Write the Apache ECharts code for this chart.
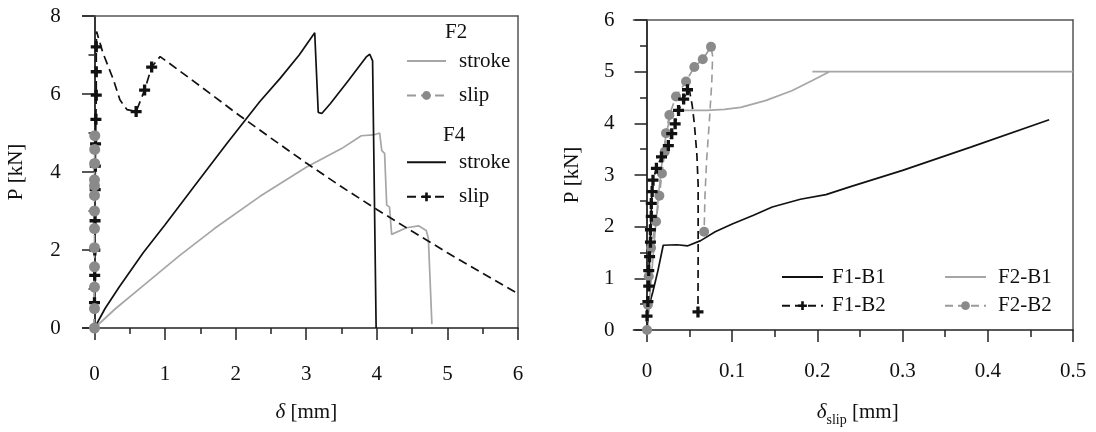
<!DOCTYPE html>
<html>
<head>
<meta charset="utf-8">
<script src="https://cdn.jsdelivr.net/npm/echarts@6/dist/echarts.min.js"></script>
<style>
  html, body { margin: 0; padding: 0; background: #fff; }
  #chart { width: 1096px; height: 432px; }
</style>
</head>
<body>
<div id="chart"></div>
<script>
// ---- Left panel: load P [kN] vs displacement δ [mm] ----
// third value in the slip arrays: 1 = draw a marker at this point
const f2Stroke = [[0,0],[0.3,0.5],[0.7,1.1],[1.2,1.85],[1.7,2.55],[2.34,3.37],[3.0,4.12],[3.5,4.6],[3.78,4.93],[3.95,4.95],[4.04,5.0],[4.07,4.55],[4.11,4.48],[4.14,3.15],[4.18,3.1],[4.21,2.4],[4.42,2.57],[4.59,2.62],[4.70,2.5],[4.73,2.3],[4.78,0.1]];
const f2Slip = [[0,0,1],[0,0.5,1],[0,1.05,1],[0,1.57,1],[0,2.06,1],[0,2.55,1],[0,3.0,1],[0,3.4,1],[0,3.65,1],[0,3.8,1],[0.002,4.22,1],[0.003,4.58,1],[0.004,4.93,1]];
const f4Stroke = [[0,0],[0.15,0.5],[0.35,1.05],[0.69,1.93],[1.0,2.65],[1.4,3.6],[1.87,4.72],[2.34,5.8],[2.63,6.4],[2.9,7.0],[3.12,7.57],[3.17,5.53],[3.22,5.5],[3.34,5.75],[3.6,6.35],[3.85,6.95],[3.9,7.02],[3.94,6.85],[3.99,0]];
const f4Slip = [[0,0,0],[0,0.65,1],[0.003,1.35,1],[0.005,2.0,1],[0.008,2.75,1],[0.01,3.55,1],[0.012,4.15,1],[0.015,4.72,1],[0.02,5.35,1],[0.025,5.97,1],[0.025,6.57,1],[0.025,7.21,1],[0.03,7.6,0],[0.12,7.05,0],[0.27,6.36,0],[0.36,5.85,0],[0.46,5.6,0],[0.59,5.55,1],[0.71,6.1,1],[0.81,6.69,1],[0.93,6.96,0],[1.5,6.2,0],[2.0,5.52,0],[2.5,4.87,0],[3.0,4.23,0],[3.5,3.62,0],[4.0,3.04,0],[4.5,2.48,0],[5.0,1.93,0],[5.5,1.4,0],[6.0,0.88,0]];

// ---- Right panel: load P [kN] vs slip δslip [mm] ----
const f1B1 = [[0,0],[0.002,0.45],[0.007,0.75],[0.0128,1.15],[0.019,1.64],[0.021,1.66],[0.035,1.65],[0.048,1.63],[0.063,1.73],[0.08,1.9],[0.1,2.05],[0.125,2.22],[0.147,2.38],[0.18,2.53],[0.21,2.62],[0.238,2.77],[0.3,3.09],[0.38,3.54],[0.472,4.07]];
const f2B1 = [[0,0],[0.003,0.6],[0.006,1.2],[0.01,2.0],[0.014,2.7],[0.018,3.3],[0.022,3.75],[0.026,4.05],[0.031,4.24],[0.045,4.25],[0.07,4.25],[0.091,4.27],[0.11,4.31],[0.139,4.44],[0.17,4.63],[0.194,4.83],[0.214,5.0],[0.194,5.0],[0.5,5.0]];
const f1B2 = [[0,0,0],[0,0.27,1],[0.001,0.55,1],[0.002,0.85,1],[0.002,1.15,1],[0.003,1.42,1],[0.004,1.7,1],[0.004,1.94,1],[0.005,2.2,1],[0.005,2.45,1],[0.006,2.68,1],[0.007,2.9,1],[0.011,3.13,1],[0.017,3.35,1],[0.025,3.57,1],[0.029,3.8,1],[0.033,3.99,1],[0.037,4.25,1],[0.043,4.47,1],[0.0475,4.65,1],[0.05,4.62,0],[0.053,4.35,0],[0.0555,4.0,0],[0.0585,3.4,0],[0.06,2.8,0],[0.06,1.5,0],[0.0598,0.35,1]];
const f2B2 = [[0,0,1],[0.001,0.49,1],[0.002,1.04,1],[0.0047,1.59,1],[0.0106,2.1,1],[0.0145,2.6,1],[0.0175,3.03,1],[0.0208,3.45,1],[0.0223,3.81,1],[0.0262,4.16,1],[0.034,4.52,1],[0.0458,4.81,1],[0.0555,5.09,1],[0.0654,5.24,1],[0.0751,5.48,1],[0.077,5.3,0],[0.076,4.8,0],[0.073,4.0,0],[0.07,3.3,0],[0.068,2.6,0],[0.067,1.9,1]];

// ---- Tick positions ----
const leftXTicks = [0, 1, 2, 3, 4, 5, 6];
const leftXMinor = [0.5, 1.5, 2.5, 3.5, 4.5, 5.5];
const leftYTicks = [0, 2, 4, 6, 8];
const leftYMinor = [1, 3, 5, 7];
const rightXTicks = [0, 0.1, 0.2, 0.3, 0.4, 0.5];
const rightXMinor = [0.05, 0.15, 0.25, 0.35, 0.45];
const rightYTicks = [0, 1, 2, 3, 4, 5, 6];
const rightYMinor = [0.5, 1.5, 2.5, 3.5, 4.5, 5.5];

const FONT = '"Liberation Serif", "Times New Roman", serif';
const TEXT = '#111';
const AXIS = '#222';
const FRAME = '#555';
const BLACK = '#111';
const GREY_LINE = '#a6a6a6';
const GREY_DOT = '#8a8a8a';
const PLUS = 'path://M3.5,0H6.5V3.5H10V6.5H6.5V10H3.5V6.5H0V3.5H3.5Z';
const LINE_ICON = 'path://M0,0H40V2H0Z';

function pts(arr) {
  return arr.map(p => (p.length > 2 && !p[2]) ? { value: [p[0], p[1]], symbol: 'none' } : [p[0], p[1]]);
}

const labelStyle = { fontFamily: FONT, fontSize: 21, color: TEXT };
const tickLine = { color: AXIS, width: 1.5 };

function mainX(grid, min, max, ticks, margin, name, gap, pad, rich) {
  return {
    type: 'value', gridIndex: grid, min: min, max: max, position: 'bottom',
    axisLine: { show: true, onZero: true, lineStyle: { color: AXIS, width: 1.5 } },
    axisTick: { show: true, customValues: ticks, length: 12, inside: false, lineStyle: tickLine },
    axisLabel: Object.assign({ customValues: ticks, margin: margin }, labelStyle),
    splitLine: { show: false },
    name: name, nameLocation: 'middle', nameGap: gap,
    nameTextStyle: { fontFamily: FONT, fontSize: 21, color: TEXT, lineHeight: 30, padding: pad, rich: rich }
  };
}
function minorX(grid, min, max, ticks, len) {
  return {
    type: 'value', gridIndex: grid, min: min, max: max, position: 'bottom',
    axisLine: { show: false, onZero: true },
    axisTick: { show: true, customValues: ticks, length: len, lineStyle: tickLine },
    axisLabel: { show: false }, splitLine: { show: false }
  };
}
function frameX(grid, min, max) {
  return {
    type: 'value', gridIndex: grid, min: min, max: max, position: 'top',
    axisLine: { show: true, onZero: false, lineStyle: { color: FRAME, width: 1.5 } },
    axisTick: { show: false }, axisLabel: { show: false }, splitLine: { show: false }
  };
}
function mainY(grid, max, ticks, margin, gap) {
  return {
    type: 'value', gridIndex: grid, min: 0, max: max, position: 'left',
    axisLine: { show: true, onZero: true, lineStyle: { color: AXIS, width: 1.8 } },
    axisTick: { show: true, customValues: ticks, length: 12.5, lineStyle: tickLine },
    axisLabel: Object.assign({ customValues: ticks, margin: margin }, labelStyle),
    splitLine: { show: false },
    name: 'P [kN]', nameLocation: 'middle', nameGap: gap,
    nameTextStyle: { fontFamily: FONT, fontSize: 21, color: TEXT, lineHeight: 22 }
  };
}
function minorY(grid, max, ticks, len) {
  return {
    type: 'value', gridIndex: grid, min: 0, max: max, position: 'left',
    axisLine: { show: false, onZero: true },
    axisTick: { show: true, customValues: ticks, length: len, lineStyle: tickLine },
    axisLabel: { show: false }, splitLine: { show: false }
  };
}
function frameY(grid, max) {
  return {
    type: 'value', gridIndex: grid, min: 0, max: max, position: 'right',
    axisLine: { show: true, onZero: false, lineStyle: { color: FRAME, width: 1.5 } },
    axisTick: { show: false }, axisLabel: { show: false }, splitLine: { show: false }
  };
}

const richName = {
  i: { fontFamily: FONT, fontSize: 21, fontStyle: 'italic', color: TEXT, lineHeight: 30 },
  n: { fontFamily: FONT, fontSize: 21, color: TEXT, lineHeight: 30 },
  s: { fontFamily: FONT, fontSize: 14, color: TEXT, lineHeight: 14, verticalAlign: 'bottom' }
};

const legendText = (pad) => ({ fontFamily: FONT, fontSize: 21, color: TEXT, lineHeight: 22, padding: [0, 0, 0, pad] });

function lineSeries(name, data, xi, yi, color, opts) {
  return Object.assign({
    name: name, type: 'line', xAxisIndex: xi, yAxisIndex: yi,
    data: pts(data), symbol: 'none', clip: false, animation: false,
    lineStyle: { color: color, width: 1.7 }, itemStyle: { color: color },
    emphasis: { disabled: true }
  }, opts || {});
}

const option = {
  backgroundColor: '#fff',
  animation: false,
  grid: [
    { left: 82.7, right: 578, top: 16, bottom: 103.5 },
    { left: 633.4, right: 23, top: 20, bottom: 101.5 }
  ],
  title: [
    { text: 'F2', left: 445, top: 22, padding: 0, textStyle: { fontFamily: FONT, fontSize: 21, fontWeight: 'normal', color: TEXT } },
    { text: 'F4', left: 443, top: 124.5, padding: 0, textStyle: { fontFamily: FONT, fontSize: 21, fontWeight: 'normal', color: TEXT } }
  ],
  legend: [
    { orient: 'vertical', left: 401, top: 45, itemWidth: 39, itemHeight: 11, itemGap: 12.5, selectedMode: false,
      data: [{ name: 'F2 stroke', icon: LINE_ICON }, 'F2 slip'],
      formatter: n => n.split(' ')[1], textStyle: legendText(8) },
    { orient: 'vertical', left: 401, top: 146.3, itemWidth: 39, itemHeight: 11, itemGap: 12.5, selectedMode: false,
      data: [{ name: 'F4 stroke', icon: LINE_ICON }, 'F4 slip'],
      formatter: n => n.split(' ')[1], textStyle: legendText(8) },
    { orient: 'vertical', left: 776, top: 261, itemWidth: 41, itemHeight: 11, itemGap: 6.7, selectedMode: false,
      data: [{ name: 'F1-B1', icon: LINE_ICON }, 'F1-B2'], textStyle: legendText(4) },
    { orient: 'vertical', left: 939, top: 261, itemWidth: 41, itemHeight: 11, itemGap: 6.7, selectedMode: false,
      data: [{ name: 'F2-B1', icon: LINE_ICON }, 'F2-B2'], textStyle: legendText(7) }
  ],
  xAxis: [
    mainX(0, -0.167, 6, leftXTicks, 36, '{i|δ}{n| [mm]}', 69, [0, 0, 0, 12], richName),
    minorX(0, -0.167, 6, leftXMinor, 6),
    frameX(0, -0.167, 6),
    mainX(1, -0.016, 0.5, rightXTicks, 31, '{i|δ}{s|slip}{n| [mm]}', 67, [0, 0, 0, 9], richName),
    minorX(1, -0.016, 0.5, rightXMinor, 7),
    frameX(1, -0.016, 0.5)
  ],
  yAxis: [
    mainY(0, 8, leftYTicks, 22, 55),
    minorY(0, 8, leftYMinor, 6),
    frameY(0, 8),
    mainY(1, 6, rightYTicks, 19, 50),
    minorY(1, 6, rightYMinor, 7),
    frameY(1, 6)
  ],
  series: [
    lineSeries('F2 stroke', f2Stroke, 0, 0, GREY_LINE),
    lineSeries('F4 stroke', f4Stroke, 0, 0, BLACK),
    lineSeries('F4 slip', f4Slip, 0, 0, BLACK, {
      symbol: PLUS, symbolSize: 11,
      lineStyle: { color: BLACK, width: 1.7, type: [9, 5] }
    }),
    lineSeries('F2 slip', f2Slip, 0, 0, GREY_DOT, {
      symbol: 'circle', symbolSize: 11,
      lineStyle: { color: '#9a9a9a', width: 1.6, type: [9, 5] }
    }),
    lineSeries('F1-B1', f1B1, 3, 3, BLACK),
    lineSeries('F2-B1', f2B1, 3, 3, GREY_LINE),
    lineSeries('F2-B2', f2B2, 3, 3, GREY_DOT, {
      symbol: 'circle', symbolSize: 10,
      lineStyle: { color: '#9a9a9a', width: 1.6, type: [8, 5] }
    }),
    lineSeries('F1-B2', f1B2, 3, 3, BLACK, {
      symbol: PLUS, symbolSize: 11,
      lineStyle: { color: BLACK, width: 1.7, type: [8, 5] }
    })
  ]
};

const chart = echarts.init(document.getElementById('chart'), null, { renderer: 'canvas' });
chart.setOption(option);
</script>
</body>
</html>
